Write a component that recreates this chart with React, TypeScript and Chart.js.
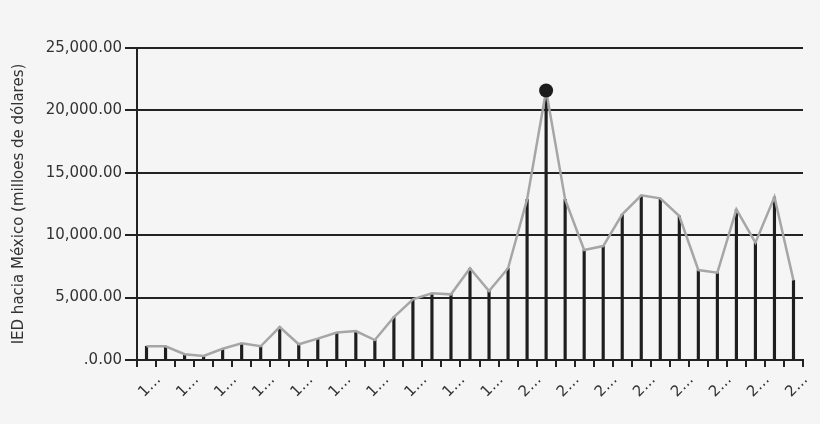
import React, { useEffect, useRef } from "react";
import { Chart, registerables } from "chart.js";

Chart.register(...registerables);

const years = [
  1980, 1981, 1982, 1983, 1984, 1985, 1986, 1987, 1988, 1989,
  1990, 1991, 1992, 1993, 1994, 1995, 1996, 1997, 1998, 1999,
  2000, 2001, 2002, 2003, 2004, 2005, 2006, 2007, 2008, 2009,
  2010, 2011, 2012, 2013, 2014,
];

const ied = [
  1100, 1100, 460, 330, 900, 1340, 1100, 2640, 1260, 1710,
  2200, 2320, 1600, 3440, 4860, 5340, 5260, 7350, 5530, 7350,
  12870, 21600, 12870, 8810, 9130, 11670, 13190, 12950, 11540, 7210,
  7000, 12070, 9400, 13060, 6380,
];

const highlightYear = 2001;
const yTicks = [0, 5000, 10000, 15000, 20000, 25000];
const yTitle = "IED hacia México (milloes de dólares)";

const FONT = "'DejaVu Sans', sans-serif";

export default function App() {
  const ref = useRef<HTMLCanvasElement | null>(null);

  useEffect(() => {
    if (!ref.current) return;
    const radii = years.map((y) => (y === highlightYear ? 7 : 0));
    const chart = new Chart(ref.current, {
      type: "bar",
      data: {
        labels: years.map(String),
        datasets: [
          {
            type: "line",
            data: ied,
            borderColor: "#a6a6a6",
            borderWidth: 2.5,
            pointRadius: radii,
            pointHoverRadius: radii,
            pointBackgroundColor: "#1c1c1c",
            pointBorderColor: "#1c1c1c",
            pointBorderWidth: 0,
            tension: 0,
            order: 0,
          } as any,
          {
            type: "bar",
            data: ied,
            backgroundColor: "#1e1e1e",
            barThickness: 2.5,
            order: 1,
          },
        ],
      },
      options: {
        responsive: false,
        animation: false,
        layout: { padding: { left: 6, right: 17, top: 48, bottom: 0 } },
        plugins: { legend: { display: false }, tooltip: { enabled: false } },
        scales: {
          x: {
            offset: true,
            grid: {
              display: true,
              drawOnChartArea: false,
              drawTicks: true,
              tickLength: 7,
              color: "#222",
              lineWidth: 2,
              offset: true,
            },
            border: { display: true, color: "#222", width: 2 },
            ticks: {
              autoSkip: false,
              maxRotation: 45,
              minRotation: 45,
              color: "#333",
              font: { size: 15, family: FONT },
              padding: 4,
              labelOffset: 12,
              callback: (_v: any, i: number) =>
                i % 2 === 0 ? String(years[i])[0] + "…" : "",
            },
            afterFit: (s: any) => {
              s.height = 64;
            },
          },
          y: {
            min: 0,
            max: 25000,
            afterBuildTicks: (s: any) => {
              s.ticks = yTicks.map((v) => ({ value: v }));
            },
            grid: { color: "#222", lineWidth: 2, tickLength: 12 },
            border: { display: true, color: "#222", width: 2 },
            ticks: {
              color: "#333",
              font: { size: 15, family: FONT },
              padding: 3,
              callback: (v: any) =>
                Number(v) === 0
                  ? ".0.00"
                  : Number(v).toLocaleString("en-US", {
                      minimumFractionDigits: 2,
                      maximumFractionDigits: 2,
                    }),
            },
            title: {
              display: true,
              text: yTitle,
              color: "#333",
              font: { size: 15, family: FONT },
            },
            afterFit: (s: any) => {
              s.width = 131;
            },
          },
        },
      },
    });
    return () => chart.destroy();
  }, []);

  return (
    <div
      style={{
        position: "fixed",
        left: 0,
        top: 0,
        width: 820,
        height: 424,
        background: "#f5f5f5",
      }}
    >
      <canvas ref={ref} width={820} height={424} />
    </div>
  );
}
